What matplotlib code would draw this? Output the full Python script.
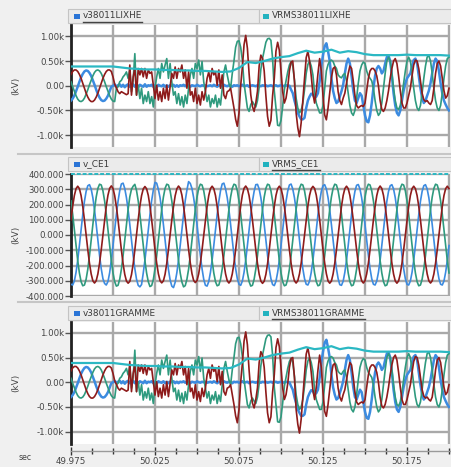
import numpy as np
import matplotlib
matplotlib.use("Agg")
import matplotlib.pyplot as plt
from matplotlib.patches import Rectangle
from matplotlib.lines import Line2D
from matplotlib.ticker import MultipleLocator, FixedLocator

# ---------------- data ----------------
t0, dt = 49.975, 0.001
n = 226
t = np.round(t0 + dt * np.arange(n), 3)
t_rms = np.round(t0 + 0.005 * np.arange(46), 3)

# Panel 1 / 3 (values in k kV)
red1 = [0.23, 0.29, 0.32, 0.32, 0.29, 0.23, 0.15, 0.05, -0.05, -0.15,
        -0.23, -0.29, -0.32, -0.32, -0.29, -0.23, -0.15, -0.05, 0.05, 0.15,
        0.23, 0.29, 0.32, 0.32, 0.29, 0.18, 0.03,
        -0.04, -0.12, -0.16, -0.12, -0.14, -0.16, -0.18, -0.16, 0.42, -0.19,
        0.18, 0.35, -0.19, 0.35, 0.22, 0.35, 0.18, 0.35, 0.15, 0.32,
        0.25, 0.28, 0.01, -0.26, 0.01, -0.29, -0.12, -0.32, -0.05, -0.26,
        0.01, -0.29, -0.02, 0.25, 0.15, 0.38, 0.15, 0.35, 0.28, 0.42,
        0.15, 0.32, -0.05, 0.28, -0.19, -0.12, -0.32, -0.05, -0.36, -0.19,
        -0.39, -0.12, -0.29, -0.12, 0.15, 0.28, 0.08, 0.35, 0.22, 0.28,
        0.01, 0.32, -0.05, 0.22, -0.19, -0.26, -0.12,
        -0.10, -0.05, -0.25, -0.45, -0.68, -0.82, -0.55, 0.00, 0.38, 0.83,
        1.02, 0.76, 0.25, -0.18, -0.42, -0.52, -0.35, -0.11, 0.40, 0.62,
        0.55, 0.30, -0.20, -0.62, -0.82, -0.70, -0.20, 0.15, 0.70, 0.88,
        0.72, 0.30, -0.12, -0.35, -0.25, -0.03, 0.30, 0.48, 0.50, 0.10,
        -0.55, -0.85, -1.03, -0.75, -0.30, 0.15, 0.57, 0.70, 0.50, 0.20,
        -0.16, -0.35, -0.10, 0.25, 0.55, 0.30, -0.20, -0.59, -0.69, -0.45,
        -0.15, 0.16, 0.35, 0.38, 0.22, -0.12, -0.30, -0.38, -0.25,
        -0.15, 0.05, 0.25, 0.40, 0.35, 0.10, -0.20, -0.40, -0.45, -0.42,
        -0.40, -0.42, -0.35, -0.10, 0.15, 0.30, 0.35, 0.35, 0.30, 0.20,
        0.00, -0.30, -0.48, -0.52, -0.45, -0.30, -0.10, 0.15, 0.35, 0.50,
        0.55, 0.45, 0.20, -0.10, -0.35, -0.45, -0.45, -0.35, -0.20, -0.05,
        0.20, 0.42, 0.52, 0.50, 0.35, 0.10, -0.15, -0.28, -0.32, -0.30,
        -0.35, -0.38, -0.30, -0.05, 0.25, 0.45, 0.50, 0.40, 0.15, -0.10,
        -0.25, -0.20, -0.05]

green1 = [0.08, -0.02, -0.11, -0.20, -0.27, -0.31, -0.32, -0.30, -0.25, -0.17,
          -0.08, 0.02, 0.11, 0.20, 0.27, 0.31, 0.32, 0.30, 0.25, 0.17,
          0.08, -0.02, -0.11, -0.20, -0.27, -0.31, -0.32,
          -0.05, -0.02, 0.08, 0.11, 0.18, 0.22, 0.28, 0.15, 0.32, -0.12,
          0.11, 0.65, -0.19, 0.01, -0.26, -0.05, -0.36, -0.19, -0.32, -0.12,
          -0.36, -0.22, -0.43, -0.05, 0.18, 0.35, 0.15, 0.45, 0.28, 0.42,
          0.55, 0.15, 0.45, 0.08, -0.19, -0.12, -0.36, -0.16, -0.39, -0.22,
          -0.43, -0.19, -0.36, -0.05, 0.22, 0.35, 0.15, 0.45, 0.35, 0.52,
          0.22, 0.49, 0.08, -0.12, -0.32, -0.19, -0.43, -0.26, -0.36, -0.19,
          -0.43, -0.26, -0.39, -0.05, 0.28, 0.42, 0.22,
          0.05, -0.05, 0.25, 0.50, 0.78, 0.90, 0.91, 0.78, 0.52, 0.05,
          -0.20, -0.45, -0.52, -0.38, -0.32, -0.38, -0.43, -0.30, -0.03, 0.33,
          0.55, 0.72, 0.88, 0.95, 0.96, 0.92, 0.55, -0.10, -0.45, -0.80,
          -0.81, -0.70, -0.42, -0.08, 0.10, 0.28, 0.42, 0.49, 0.40, 0.12,
          -0.25, -0.45, -0.55, -0.50, -0.35, -0.08, 0.25, 0.43, 0.50, 0.40,
          0.22, -0.15, -0.35, -0.45, -0.55, -0.55, -0.40, -0.05, 0.30, 0.43,
          0.50, 0.52, 0.49, 0.40, 0.35, 0.22, 0.18, 0.16, 0.22,
          0.25, 0.10, -0.15, -0.40, -0.55, -0.60, -0.50, -0.25, 0.05, 0.30,
          0.42, 0.48, 0.45, 0.30, 0.20, 0.15, 0.10, -0.05, -0.30, -0.50,
          -0.60, -0.55, -0.35, -0.05, 0.25, 0.50, 0.58, 0.50, 0.25, -0.05,
          -0.30, -0.45, -0.48, -0.40, -0.20, 0.05, 0.30, 0.50, 0.58, 0.50,
          0.25, -0.05, -0.30, -0.45, -0.50, -0.40, -0.15, 0.15, 0.40, 0.58,
          0.61, 0.50, 0.25, -0.05, -0.30, -0.45, -0.50, -0.40, -0.15, 0.15,
          0.40, 0.55, 0.58]

blue1 = [-0.30, -0.26, -0.20, -0.11, -0.02, 0.08, 0.17, 0.24, 0.29, 0.31,
         0.30, 0.26, 0.20, 0.11, 0.02, -0.08, -0.17, -0.24, -0.29, -0.31,
         -0.30, -0.26, -0.20, -0.11, -0.02,
         0.00, 0.03, -0.02, 0.01, 0.03, -0.02, 0.02, -0.03, 0.01, 0.03,
         -0.02, 0.00, 0.03, -0.02, 0.01, -0.03, 0.02, 0.00, -0.02, 0.03,
         -0.02, 0.01, 0.00, 0.02, -0.02, 0.01, -0.03, 0.02, 0.00, -0.01,
         0.02, -0.02, 0.01, -0.02, 0.01, 0.00, 0.02, -0.02, 0.01, -0.02,
         0.01, 0.00, 0.02, -0.01, 0.02, 0.00, -0.02, 0.01, 0.00, -0.01,
         0.02, 0.00, -0.01, 0.01, 0.00, 0.01, -0.01, 0.00, 0.01, -0.01,
         0.02, 0.00, -0.02, 0.01, 0.00, -0.01, 0.02, 0.00, -0.01, 0.01,
         0.00, -0.02, 0.01, 0.00, 0.01, -0.01, 0.00, 0.02, -0.01, 0.00,
         0.01, -0.02, 0.00, 0.01, 0.00, -0.01, 0.01, 0.00, -0.01, 0.01,
         0.00, 0.01, -0.01, 0.00, 0.01, -0.01, 0.00, 0.01, -0.01, 0.00,
         0.01, -0.01, 0.00, 0.01, 0.00, 0.00,
         -0.08, -0.15, -0.30, -0.42, -0.55, -0.62, -0.68, -0.68, -0.65, -0.45,
         -0.30, -0.22, -0.16, -0.18, -0.25, -0.22, -0.15, 0.09, 0.40, 0.62,
         0.80, 0.86, 0.70, 0.50, 0.16, -0.10, -0.25, -0.35, -0.32, -0.22,
         -0.11, 0.02,
         0.25, 0.45, 0.55, 0.45, 0.20, -0.10, -0.30, -0.35, -0.25, -0.15,
         -0.20, -0.40, -0.60, -0.72, -0.74, -0.60, -0.35, -0.05, 0.20, 0.35,
         0.40, 0.35, 0.25, 0.30, 0.45, 0.58, 0.61, 0.50, 0.20, -0.15,
         -0.40, -0.55, -0.60, -0.50, -0.30, -0.10, 0.05, 0.15, 0.20, 0.25,
         0.40, 0.52, 0.55, 0.45, 0.20, -0.05, -0.25, -0.35, -0.30, -0.20,
         -0.10, 0.05, 0.25, 0.45, 0.55, 0.50, 0.30, 0.05, -0.15, -0.30,
         -0.38, -0.45, -0.50]

vrms1 = [0.39, 0.39, 0.39, 0.39, 0.39, 0.39, 0.37, 0.35, 0.34, 0.33,
         0.33, 0.32, 0.32, 0.31, 0.31, 0.30, 0.30, 0.29, 0.28, 0.29,
         0.36, 0.48, 0.46, 0.50, 0.55, 0.58, 0.60, 0.66, 0.71, 0.67,
         0.69, 0.73, 0.67, 0.70, 0.68, 0.64, 0.62, 0.62, 0.62, 0.62,
         0.63, 0.62, 0.62, 0.62, 0.62, 0.61]

# Panel 2 (kV)
red2 = [99, 188, 259, 304, 320, 304, 259, 188, 99, 0, -97, -185, -255, -300, -315, -300, -255, -185, -97, 0,
        100, 190, 261, 306, 322, 305, 258, 187, 98, -2, -99, -188, -258, -302, -316, -304, -260, -190, -98, 2,
        101, 189, 258, 302, 318, 303, 260, 190, 100, 1, -96, -184, -254, -300, -314, -301, -257, -186, -96, 1,
        98, 186, 257, 303, 321, 306, 262, 191, 101, 2, -95, -183, -253, -298, -312, -299, -255, -186, -98, -1,
        99, 188, 259, 304, 320, 304, 259, 188, 99, 0, -97, -185, -255, -300, -315, -300, -255, -185, -97, 0,
        100, 190, 262, 306, 321, 304, 258, 187, 98, -1, -98, -187, -257, -302, -317, -303, -258, -188, -99, -1,
        99, 188, 259, 304, 320, 304, 259, 188, 99, 0, -97, -185, -255, -300, -315, -300, -255, -185, -97, 0,
        101, 190, 260, 303, 319, 305, 261, 190, 100, 1, -96, -184, -254, -301, -316, -302, -256, -186, -98, -1,
        99, 188, 259, 304, 320, 304, 259, 188, 99, 0, -97, -185, -255, -300, -315, -300, -255, -185, -97, 0,
        98, 187, 258, 304, 321, 305, 260, 189, 100, 1, -96, -185, -256, -301, -316, -301, -256, -186, -98, -1,
        99, 188, 259, 304, 320, 304, 259, 188, 99, 0, -97, -185, -255, -300, -315, -300, -255, -185, -97, 0,
        99, 188, 259, 304, 320, 304]

blue2 = [-323, -328, -302, -245, -165, -69, 35, 134, 221, 286, 323, 330, 302, 245, 165, 69, -35, -134, -221, -286,
         -318, -328, -305, -248, -165, -69, 35, 134, 221, 290, 335, 340, 305, 245, 165, 69, -35, -134, -221, -290,
         -330, -340, -325, -250, -165, -69, 35, 134, 225, 295, 345, 340, 300, 245, 165, 69, -35, -134, -225, -295,
         -335, -345, -310, -248, -165, -69, 35, 134, 225, 295, 350, 338, 305, 245, 165, 69, -35, -134, -221, -290,
         -330, -335, -305, -245, -165, -69, 35, 134, 221, 290, 335, 340, 302, 245, 165, 69, -35, -134, -221, -286,
         -323, -330, -302, -245, -165, -69, 35, 134, 221, 286, 330, 332, 302, 245, 165, 69, -35, -134, -221, -286,
         -325, -332, -304, -245, -165, -69, 35, 134, 221, 288, 328, 334, 302, 245, 165, 69, -35, -134, -221, -286,
         -323, -328, -302, -245, -165, -69, 35, 134, 221, 286, 323, 330, 302, 245, 165, 69, -35, -134, -221, -286,
         -326, -330, -303, -245, -165, -69, 35, 134, 221, 286, 326, 331, 302, 245, 165, 69, -35, -134, -221, -286,
         -323, -328, -302, -245, -165, -69, 35, 134, 221, 286, 323, 330, 302, 245, 165, 69, -35, -134, -221, -286,
         -323, -328, -302, -245, -165, -69, 35, 134, 221, 286, 323, 330, 302, 245, 165, 69, -35, -134, -221, -286,
         -323, -328, -302, -245, -165, -69]

green2 = [224, 136, 35, -70, -168, -249, -306, -333, -328, -290, -224, -136, -35, 70, 168, 249, 306, 333, 328, 290,
          224, 136, 35, -70, -168, -249, -306, -335, -330, -290, -224, -136, -35, 70, 168, 250, 300, 320, 332, 292,
          224, 136, 35, -70, -168, -249, -306, -338, -332, -292, -224, -136, -35, 70, 168, 249, 306, 333, 328, 290,
          224, 136, 35, -70, -168, -249, -308, -340, -332, -290, -224, -136, -35, 70, 168, 249, 306, 333, 328, 290,
          224, 136, 35, -70, -168, -249, -306, -333, -328, -290, -224, -136, -35, 70, 168, 249, 306, 333, 328, 290,
          224, 136, 35, -70, -168, -249, -306, -335, -330, -290, -224, -136, -35, 70, 168, 249, 306, 333, 328, 290,
          224, 136, 35, -70, -168, -249, -306, -333, -328, -290, -224, -136, -35, 70, 168, 249, 306, 333, 328, 290,
          224, 136, 35, -70, -168, -249, -306, -333, -328, -290, -224, -136, -35, 70, 168, 249, 306, 333, 328, 290,
          224, 136, 35, -70, -168, -249, -306, -333, -328, -290, -224, -136, -35, 70, 168, 249, 306, 333, 328, 290,
          224, 136, 35, -70, -168, -249, -306, -333, -328, -290, -224, -136, -35, 70, 168, 249, 306, 333, 328, 290,
          224, 136, 35, -70, -168, -249, -306, -333, -328, -290, -224, -136, -35, 70, 168, 249, 306, 333, 328, 290,
          224, 136, 35, -70, -168, -249]

vrms2 = [398] * 46

yt1 = [1.0, 0.5, 0.0, -0.5, -1.0]
yt1_labels = ["1.00k", "0.50k", "0.00", "-0.50k", "-1.00k"]
yt2 = [400, 300, 200, 100, 0, -100, -200, -300, -400]
yt2_labels = ["400.000", "300.000", "200.000", "100.000", "0.000",
              "-100.000", "-200.000", "-300.000", "-400.000"]
xt = [49.975, 50.025, 50.075, 50.125, 50.175]
xt_labels = ["49.975", "50.025", "50.075", "50.125", "50.175"]

legends = [("v38011LIXHE", "VRMS38011LIXHE", True, False),
           ("v_CE1", "VRMS_CE1", False, True),
           ("v38011GRAMME", "VRMS38011GRAMME", False, True)]

for name, arr in [("red1", red1), ("green1", green1), ("blue1", blue1),
                  ("red2", red2), ("green2", green2), ("blue2", blue2)]:
    assert len(arr) == n, (name, len(arr))
assert len(vrms1) == len(t_rms)

# ---------------- style ----------------
W, H = 451, 467
RED = "#8e1b1b"
GREEN = "#2f9a7e"
BLUE = "#3c8be0"
CYAN = "#2bb8c3"
GRID = "#a9a9a9"
TXT = "#444444"

fig = plt.figure(figsize=(W / 100, H / 100), dpi=100)
fig.patch.set_facecolor("#f0f0f0")


def fx(x):
    return x / W


def fy(y):
    return 1 - y / H


XMAX = 49.975 + (450 - 71) / 1680.0

panel_tops = [25, 174, 322]
header_tops = [9, 157, 306]
ylims = [(-1.24, 1.23), (-400, 400), (-1.25, 1.22)]
axes = []
for k, top in enumerate(panel_tops):
    ax = fig.add_axes([fx(71), fy(top + 122), fx(450) - fx(71), 122 / H])
    ax.set_facecolor("white")
    ax.set_xlim(t0, XMAX)
    ax.set_ylim(*ylims[k])
    ax.xaxis.set_major_locator(MultipleLocator(0.025))
    ax.tick_params(axis="x", length=0, labelbottom=False)
    ax.grid(True, color=GRID, lw=1.7, zorder=0)
    ax.set_axisbelow(True)
    for s in ["top", "right", "bottom"]:
        ax.spines[s].set_visible(False)
    ax.spines["left"].set_linewidth(2.0)
    ax.spines["left"].set_color("#222222")
    ax.tick_params(axis="y", direction="out", length=4, width=1.0,
                   color="#555555", labelsize=6.2, labelcolor=TXT, pad=1)
    ax.set_ylabel("(kV)", fontsize=6.4, color=TXT)
    axes.append(ax)

ax1, ax2, ax3 = axes
for ax in (ax1, ax3):
    ax.yaxis.set_major_locator(FixedLocator(yt1))
    ax.set_yticklabels(yt1_labels)
ax2.yaxis.set_major_locator(FixedLocator(yt2))
ax2.set_yticklabels(yt2_labels)
for ax in axes:
    ax.yaxis.set_label_coords(-0.133, 0.5)

lw = 1.2
for ax in (ax1, ax3):
    ax.plot(t, blue1, color=BLUE, lw=1.8, zorder=3)
    ax.plot(t, green1, color=GREEN, lw=lw, zorder=4)
    ax.plot(t, red1, color=RED, lw=lw, zorder=5)
    ax.plot(t_rms, vrms1, color=CYAN, lw=1.6, zorder=6)

ax2.plot(t, blue2, color=BLUE, lw=lw, zorder=3)
ax2.plot(t, green2, color=GREEN, lw=lw, zorder=4)
ax2.plot(t, red2, color=RED, lw=lw, zorder=5)
ax2.plot(t_rms, vrms2, color=CYAN, lw=1.4, ls=(0, (2, 1)), zorder=6, clip_on=False)

# headers (legend strips)
fig.canvas.draw()
renderer = fig.canvas.get_renderer()
for k, htop in enumerate(header_tops):
    l1, l2, u1, u2 = legends[k]
    fig.patches.append(Rectangle((fx(68), fy(htop + 14)), fx(259) - fx(68), 14 / H,
                                 transform=fig.transFigure, facecolor="#ebebeb",
                                 edgecolor="#c4c4c4", lw=0.8))
    fig.patches.append(Rectangle((fx(259), fy(htop + 14)), fx(452) - fx(259), 14 / H,
                                 transform=fig.transFigure, facecolor="#ebebeb",
                                 edgecolor="#c4c4c4", lw=0.8))
    fig.patches.append(Rectangle((fx(74), fy(htop + 9.5)), 6 / W, 4.5 / H,
                                 transform=fig.transFigure, facecolor="#2a74d6", lw=0))
    fig.patches.append(Rectangle((fx(263), fy(htop + 9.5)), 6 / W, 4.5 / H,
                                 transform=fig.transFigure, facecolor="#22b2bf", lw=0))
    for xs, label, und in [(83, l1, u1), (272, l2, u2)]:
        tx = fig.text(fx(xs), fy(htop + 7), label, fontsize=6.4, color="#3a3a3a",
                      ha="left", va="center")
        if und:
            bb = tx.get_window_extent(renderer)
            fig.lines.append(Line2D([bb.x0 / W, bb.x1 / W],
                                    [fy(htop + 12.5), fy(htop + 12.5)],
                                    transform=fig.transFigure, color="#444444", lw=1.0))

# panel separators
for ysep in [154, 302]:
    fig.lines.append(Line2D([fx(18), fx(451)], [fy(ysep), fy(ysep)],
                            transform=fig.transFigure, color="#c6c6c6", lw=1.5))

# time axis
axt = fig.add_axes([fx(71), fy(451), fx(450) - fx(71), 0.0001])
axt.set_xlim(t0, XMAX)
axt.set_ylim(0, 1)
axt.patch.set_visible(False)
for s in ["top", "right", "left"]:
    axt.spines[s].set_visible(False)
axt.spines["bottom"].set_color("#9a9a9a")
axt.spines["bottom"].set_linewidth(1.0)
axt.set_yticks([])
axt.xaxis.set_major_locator(FixedLocator(xt))
axt.set_xticklabels(xt_labels)
axt.xaxis.set_minor_locator(MultipleLocator(0.0125))
axt.tick_params(axis="x", which="major", direction="inout", length=6, width=1.0,
                color="#333333", labelsize=6.3, labelcolor=TXT, pad=1.5)
axt.tick_params(axis="x", which="minor", direction="inout", length=4, width=1.0,
                color="#333333")
fig.text(fx(19), fy(457), "sec", fontsize=5.6, color=TXT, ha="left", va="center")

fig.savefig("out.png", dpi=100, facecolor=fig.get_facecolor())
